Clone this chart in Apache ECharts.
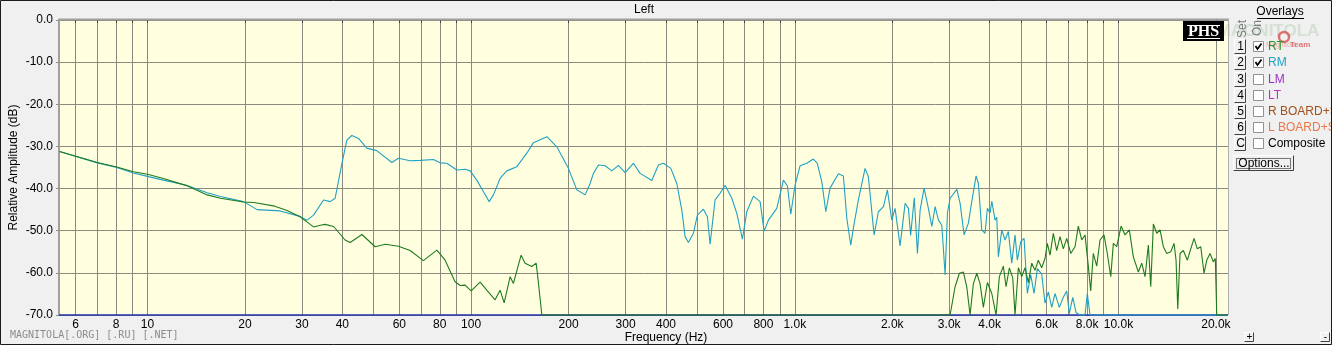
<!DOCTYPE html>
<html><head><meta charset="utf-8">
<script src="https://cdn.jsdelivr.net/npm/echarts@6/dist/echarts.min.js"></script>
<style>html,body{margin:0;padding:0;background:#f0f0f0;}#c{width:1332px;height:345px;}</style>
</head><body><div id="c"></div><script>
// ---- data (Hz, dB) ----
const rmFreq = [5.35,7.0,8.04,9.05,10.0,11.2,13.2,15.3,16.8,19.8,21.8,25.7,29.6,31.1,32.6,35.0,36.7,38.0,39.9,41.3,42.8,44.9,47.6,51.1,56.9,59.6,64.8,69.6,76.5,80.2,84.1,90.3,95.8,99.3,104.1,109.1,113.7,117.2,122.9,128.9,138.4,148.6,155.8,171.4,184.0,199.8,212.1,225.0,233.2,238.7,247.4,259.4,272.1,285.2,299.1,317.2,332.7,361.6,379.0,392.7,414.0,432.0,447.7,458.3,469.2,486.2,500.1,521.9,537.0,547.4,558.0,567.2,587.8,609.1,638.9,662.0,688.9,710.8,745.0,781.3,803.9,829.0,879.9,922.2,949.0,971.9,1002,1038,1089,1141,1174,1212,1247,1285,1364,1413,1448,1489,1517,1572,1649,1688,1758,1813,1879,1932,1994,2041,2115,2192,2244,2280,2340,2393,2439,2509,2587,2651,2714,2779,2846,2914,2962,3019,3167,3242,3335,3438,3522,3632,3692,3782,3871,3936,4012,4061,4157,4208,4256,4360,4463,4569,4681,4792,4871,4990,5109,5230,5358,5485,5615,5793,5931,6072,6220,6368,6566,6755,6921,7050,7223,7394,7607,7883,8013,8168,21800];
const rmDb = [-31.2,-33.9,-35.0,-36.3,-37.1,-38.0,-39.2,-41.0,-41.9,-43.1,-45.0,-45.3,-46.6,-47.5,-46.3,-42.7,-43.1,-42.3,-34.0,-28.5,-27.4,-28.1,-30.4,-31.0,-33.8,-32.8,-33.4,-33.3,-33.1,-33.9,-34.0,-35.6,-35.4,-35.8,-38.0,-40.7,-43.1,-41.5,-37.6,-35.8,-34.8,-31.6,-29.1,-27.7,-30.1,-35.2,-40.3,-41.5,-38.8,-36.4,-34.4,-34.6,-35.8,-34.5,-36.2,-34.0,-36.4,-38.1,-34.4,-34.0,-35.2,-38.8,-45.1,-51.4,-52.8,-50.6,-46.3,-44.9,-46.7,-53.2,-47.5,-42.7,-41.1,-39.2,-42.3,-45.9,-52.0,-45.5,-41.8,-43.1,-50.1,-47.5,-44.7,-38.0,-39.4,-46.1,-39.2,-34.6,-34.0,-33.0,-34.0,-38.4,-45.5,-39.9,-36.5,-37.0,-47.1,-53.4,-49.4,-42.7,-35.2,-37.2,-51.0,-45.5,-44.3,-40.3,-47.5,-44.7,-53.6,-43.5,-44.7,-51.1,-42.2,-55.4,-45.1,-39.9,-44.7,-49.0,-44.3,-47.5,-48.7,-60.5,-45.8,-42.3,-40.2,-43.5,-51.0,-48.2,-43.1,-37.0,-38.8,-49.8,-50.6,-44.7,-45.8,-43.0,-47.5,-46.8,-56.2,-49.8,-52.2,-50.2,-57.7,-51.0,-57.0,-52.6,-51.8,-64.9,-60.5,-64.9,-59.0,-60.3,-67.2,-64.5,-68.2,-64.9,-68.2,-65.8,-64.3,-69.7,-65.8,-69.4,-70,-70,-64.9,-70,-70];
const rtFreq = [5.35,7.0,8.04,9.05,10.0,11.2,13.2,15.3,16.8,19.8,21.3,24.5,27.0,29.6,31.1,32.6,34.2,35.4,37.6,40.8,42.3,46.0,50.5,54.3,59.6,64.8,71.2,78.4,83.1,89.2,92.5,95.8,100,106.6,111.8,118.6,122.9,126.5,132.0,135.1,142.7,146.8,154.0,158.8,160.2,165.4,2914,3019,3128,3226,3319,3399,3480,3562,3650,3737,3825,3936,4061,4187,4286,4410,4495,4602,4714,4792,4906,5026,5145,5267,5396,5524,5655,5793,5931,6029,6146,6292,6445,6599,6755,6921,7121,7342,7516,7700,7883,8070,8208,8362,8567,8770,9023,9237,9467,9643,9880,10190,10480,10805,11118,11520,11804,12084,12371,12584,12819,13133,13445,13764,14101,14508,14852,15065,15248,15500,15868,16326,16725,17122,17528,17957,18383,18740,19185,19640,19922,20121,21800];
const rtDb = [-31.2,-33.8,-34.9,-36.0,-36.6,-37.6,-39.3,-41.5,-42.3,-43.2,-43.3,-44.1,-45.2,-46.7,-47.9,-49.1,-48.7,-48.5,-49.0,-52.2,-52.8,-50.9,-53.8,-53.2,-53.7,-54.7,-57.1,-54.6,-57.0,-62.1,-63.0,-62.9,-64.3,-62.2,-64.1,-66.4,-64.1,-67.1,-60.9,-62.5,-55.8,-57.7,-58.5,-57.7,-60.1,-70,-70,-70,-63.3,-60.1,-59.8,-63.3,-70,-62.6,-60.1,-62.6,-68.2,-62.3,-64.9,-70,-60.9,-58.4,-63.3,-58.8,-61.2,-70,-58.8,-60.9,-58.8,-62.3,-57.7,-59.4,-57.0,-58.8,-56.6,-53.0,-55.8,-50.6,-54.7,-51.4,-54.3,-51.8,-55.4,-53.8,-48.9,-52.2,-51.0,-58.4,-64.3,-55.4,-58.4,-52.2,-51.0,-55.4,-60.9,-53.0,-53.8,-48.9,-51.0,-49.8,-56.2,-59.8,-57.7,-60.9,-53.4,-63.3,-48.4,-50.6,-49.8,-53.8,-55.4,-55.0,-53.0,-57.0,-68.6,-55.4,-54.7,-57.0,-54.3,-51.8,-54.3,-53.8,-60.1,-57.0,-55.4,-57.4,-56.6,-70,-70];
const freqMin = 5.33, freqMax = 21800;
const dbMin = -70, dbMax = 0, dbStep = 10, floorDb = -70;
const gridFreqs = [6,7,8,9,10,20,30,40,50,60,70,80,90,100,200,300,400,500,600,700,800,900,1000,2000,3000,4000,5000,6000,7000,8000,9000,10000,20000];
const labelFreqs = [6,8,10,20,30,40,60,80,100,200,300,400,600,800,1000,2000,3000,4000,6000,8000,10000,20000];
const labelTexts = ['6','8','10','20','30','40','60','80','100','200','300','400','600','800','1.0k','2.0k','3.0k','4.0k','6.0k','8.0k','10.0k','20.0k'];
const overlaySet = ['1','2','3','4','5','6','C'];
const overlayNames = ['RT','RM','LM','LT','R BOARD+S','L BOARD+S','Composite'];
const overlayOn = [true,true,false,false,false,false,false];
const overlayColors = ['#229922','#22a0c4','#9b30c8','#c030c8','#a0501a','#e8784a','#000000'];

const FONT = '"Liberation Sans", Arial, sans-serif';
const toPts = (fs, ds) => fs.map((f, i) => [Math.log10(f), ds[i]]);
const lx = Math.log10;
function labelFor(v) {
  for (let i = 0; i < labelFreqs.length; i++) if (Math.abs(lx(labelFreqs[i]) - v) < 1e-6) return labelTexts[i];
  return '';
}

const chart = echarts.init(document.getElementById('c'), null, {renderer: 'canvas'});
const g = [];
// outer border
g.push({type:'rect', z:100, shape:{x:0.5,y:0.5,width:1331,height:344}, style:{fill:'none',stroke:'#1a1a1a',lineWidth:1}});
// plot frame
g.push({type:'line', z:50, shape:{x1:58,y1:19.5,x2:1229,y2:19.5}, style:{stroke:'#a0a0a0',lineWidth:2}});
g.push({type:'line', z:50, shape:{x1:1228.5,y1:19,x2:1228.5,y2:315}, style:{stroke:'#b0b0b0',lineWidth:1}});
// title & axis name
g.push({type:'text', x:644, y:10, style:{text:'Left', font:'12px '+FONT, fill:'#000', align:'center', verticalAlign:'middle'}});
g.push({type:'text', x:666, y:338, style:{text:'Frequency (Hz)', font:'12px '+FONT, fill:'#000', align:'center', verticalAlign:'middle'}});
g.push({type:'text', x:10, y:335, style:{text:'MAGNITOLA[.ORG] [.RU] [.NET]', font:'10px "DejaVu Sans Mono", monospace', fill:'#8c8c8c', align:'left', verticalAlign:'middle'}});
// PHS logo
g.push({type:'rect', z:60, shape:{x:1183,y:21,width:41,height:20}, style:{fill:'#000'}});
g.push({type:'text', z:61, x:1203.5, y:32, style:{text:'PHS', font:'bold 16px "Liberation Serif", serif', fill:'#fff', align:'center', verticalAlign:'middle'}});
g.push({type:'line', z:61, shape:{x1:1187,y1:25.5,x2:1220,y2:25.5}, style:{stroke:'#fff',lineWidth:1}});
g.push({type:'line', z:61, shape:{x1:1187,y1:38.5,x2:1220,y2:38.5}, style:{stroke:'#fff',lineWidth:1}});
// watermark
g.push({type:'text', x:1268, y:31, style:{text:'MAGNITOLA', font:'bold 17px '+FONT, fill:'rgba(110,170,110,0.22)', align:'center', verticalAlign:'middle'}});
g.push({type:'circle', shape:{cx:1284,cy:37,r:5}, style:{fill:'none',stroke:'rgba(215,70,70,0.75)',lineWidth:2.5}});
g.push({type:'text', x:1266, y:45, style:{text:'Magnitola', font:'7px '+FONT, fill:'rgba(215,90,90,0.45)', align:'left', verticalAlign:'middle'}});
g.push({type:'text', x:1290, y:45, style:{text:'Team', font:'bold 8px '+FONT, fill:'rgba(215,80,80,0.75)', align:'left', verticalAlign:'middle'}});
// overlays panel
g.push({type:'text', x:1280, y:12, style:{text:'Overlays', font:'12px '+FONT, fill:'#000', align:'center', verticalAlign:'middle'}});
g.push({type:'line', shape:{x1:1257,y1:18.5,x2:1304,y2:18.5}, style:{stroke:'#000',lineWidth:1}});
g.push({type:'text', x:1242.5, y:29, rotation:Math.PI/2, style:{text:'Set', font:'12px '+FONT, fill:'#7a7a7a', align:'center', verticalAlign:'middle'}});
g.push({type:'text', x:1258, y:28, rotation:Math.PI/2, style:{text:'On', font:'12px '+FONT, fill:'#7a7a7a', align:'center', verticalAlign:'middle'}});
function button(x, y, w, h, label, fs) {
  g.push({type:'rect', shape:{x:x,y:y,width:w,height:h}, style:{fill:'#f0f0f0'}});
  g.push({type:'polyline', shape:{points:[[x,y+h],[x,y],[x+w,y]]}, style:{stroke:'#ffffff',lineWidth:1,fill:null}});
  g.push({type:'polyline', shape:{points:[[x,y+h],[x+w,y+h],[x+w,y]]}, style:{stroke:'#404040',lineWidth:1,fill:null}});
  g.push({type:'text', x:x+w/2+0.5, y:y+h/2+0.5, style:{text:label, font:(fs||12)+'px '+FONT, fill:'#000', align:'center', verticalAlign:'middle'}});
}
const rowY = [47, 63, 80, 96, 112, 128, 144];
overlaySet.forEach((s, i) => {
  const yc = rowY[i];
  button(1234.5, yc - 7.5, 11, 14, s);
  g.push({type:'rect', shape:{x:1253.5,y:yc-5.5,width:10,height:10}, style:{fill:'#ffffff',stroke:'#909090',lineWidth:1}});
  if (overlayOn[i]) g.push({type:'polyline', shape:{points:[[1255.5,yc-1],[1257.5,yc+2],[1261.5,yc-3.5]]}, style:{stroke:'#000',lineWidth:1.8,fill:null}});
  g.push({type:'text', x:1268, y:yc, style:{text:overlayNames[i], font:'12px '+FONT, fill:overlayColors[i], align:'left', verticalAlign:'middle'}});
});
button(1233.5, 155.5, 60, 15, 'Options...');
g.push({type:'rect', shape:{x:1236.5,y:158.5,width:54,height:10}, style:{fill:'none',stroke:'#000',lineWidth:1,lineDash:[1,1]}});
button(1244.5, 332.5, 9, 9, '+', 10);
button(1320.5, 332.5, 9, 9, '-', 10);

const option = {
  animation: false,
  backgroundColor: '#f0f0f0',
  grid: {left: 59, right: 104, top: 20, bottom: 30, show: true, backgroundColor: '#ffffe0', borderWidth: 0, containLabel: false, outerBoundsMode: 'none'},
  xAxis: {
    type: 'value', min: lx(freqMin), max: lx(freqMax),
    axisLine: {show: false},
    axisTick: {show: true, inside: false, length: 3, customValues: gridFreqs.map(lx), lineStyle: {color: '#404040'}},
    axisLabel: {customValues: labelFreqs.map(lx), formatter: labelFor, color: '#000', fontSize: 12, fontFamily: FONT, margin: 4},
    splitLine: {show: true, lineStyle: {color: '#8a8a80', width: 1}}
  },
  yAxis: {
    type: 'value', min: dbMin, max: dbMax, interval: dbStep,
    name: 'Relative Amplitude (dB)', nameLocation: 'middle', nameGap: 39, nameMoveOverlap: false,
    nameTextStyle: {color: '#000', fontSize: 12, fontFamily: FONT},
    axisLine: {show: true, lineStyle: {color: '#a0a0a0', width: 2}},
    axisTick: {show: true, length: 3, lineStyle: {color: '#909090'}},
    axisLabel: {formatter: v => v.toFixed(1), color: '#000', fontSize: 12, fontFamily: FONT, margin: 6},
    splitLine: {show: true, lineStyle: {color: '#8a8a80', width: 1}}
  },
  series: [
    {type: 'line', name: 'floor', data: [[lx(freqMin), floorDb], [lx(freqMax), floorDb]], symbol: 'none', clip: false, lineStyle: {color: '#2030b0', width: 1.6}},
    {type: 'line', name: 'RM', data: toPts(rmFreq, rmDb), symbol: 'none', clip: false, lineStyle: {color: '#22a0c4', width: 1.1}},
    {type: 'line', name: 'RT', data: toPts(rtFreq, rtDb), symbol: 'none', clip: false, lineStyle: {color: '#1f7a1f', width: 1.1}}
  ],
  graphic: {elements: g}
};
chart.setOption(option);
</script></body></html>
